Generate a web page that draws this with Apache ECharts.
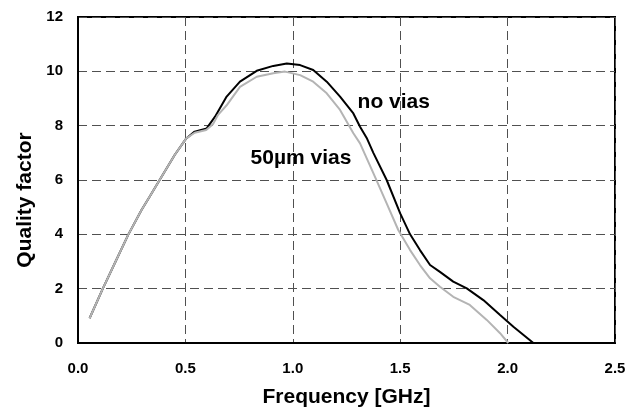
<!DOCTYPE html>
<html>
<head>
<meta charset="utf-8">
<script src="https://cdn.jsdelivr.net/npm/echarts@6/dist/echarts.min.js"></script>
<style>
html,body{margin:0;padding:0;background:#fff;}
#chart{width:639px;height:418px;}
</style>
</head>
<body>
<div id="chart"></div>
<script>
// Frequency [GHz] and quality factor
const noViasFreq = [0.054,0.116,0.175,0.233,0.295,0.334,0.38,0.45,0.504,0.543,0.599,0.638,0.692,0.754,0.832,0.909,0.972,1.034,1.095,1.158,1.22,1.282,1.313,1.344,1.375,1.437,1.5,1.546,1.592,1.639,1.685,1.747,1.81,1.887,1.965,2.027,2.12];
const noViasQ    = [0.91,2.01,3.0,3.97,4.89,5.39,6.0,6.92,7.53,7.78,7.9,8.33,9.07,9.62,10.02,10.2,10.29,10.23,10.05,9.62,9.07,8.45,7.96,7.55,7.0,6.0,4.77,4.0,3.42,2.87,2.62,2.26,2.01,1.58,1.03,0.6,0.0];
const viasFreq   = [0.054,0.116,0.175,0.233,0.295,0.334,0.38,0.45,0.504,0.543,0.597,0.628,0.652,0.692,0.754,0.832,0.909,0.964,1.034,1.095,1.158,1.22,1.282,1.313,1.375,1.437,1.491,1.546,1.592,1.639,1.685,1.747,1.824,1.903,1.965,2.003];
const viasQ      = [0.91,2.01,3.0,3.97,4.89,5.39,6.0,6.92,7.53,7.74,7.84,8.05,8.4,8.75,9.43,9.8,9.93,9.99,9.86,9.62,9.19,8.58,7.72,7.35,6.25,5.14,4.16,3.42,2.87,2.38,2.07,1.70,1.40,0.85,0.36,0.0];
const seriesNames = ['no vias', '50µm vias'];
const xTitle = 'Frequency [GHz]';
const yTitle = 'Quality factor';

const zip = (xs, ys) => xs.map((x, i) => [x, ys[i]]);
const FONT = "'Liberation Sans', Arial, sans-serif";

const chart = echarts.init(document.getElementById('chart'), null, {renderer: 'canvas'});
const gridLine = {show: true, lineStyle: {color: '#505050', width: 1, type: [9, 5]}};
const labelMark = (text, coord) => ({
  symbol: 'circle', symbolSize: 1,
  itemStyle: {color: 'rgba(0,0,0,0)'},
  label: {show: true, position: 'inside', formatter: text, fontFamily: FONT, fontWeight: 'bold', fontSize: 21, color: '#000'},
  data: [{coord: coord, value: 0}]
});
chart.setOption({
  animation: false,
  grid: {left: 78, top: 17, width: 537, height: 326, show: true, borderColor: '#000', borderWidth: 2, backgroundColor: 'transparent'},
  xAxis: {
    type: 'value', min: 0, max: 2.5, interval: 0.5,
    name: xTitle, nameLocation: 'middle', nameGap: 44,
    nameTextStyle: {fontFamily: FONT, fontWeight: 'bold', fontSize: 21, color: '#000'},
    axisLine: {show: true, lineStyle: {color: '#000', width: 2}},
    axisTick: {show: false},
    axisLabel: {margin: 18, fontFamily: FONT, fontWeight: 'bold', fontSize: 15, color: '#000', formatter: v => v.toFixed(1)},
    splitLine: gridLine
  },
  yAxis: {
    type: 'value', min: 0, max: 12, interval: 2,
    name: yTitle, nameLocation: 'middle', nameGap: 42, nameRotate: 90,
    nameTextStyle: {fontFamily: FONT, fontWeight: 'bold', fontSize: 21, color: '#000', padding: [0, 40, 0, 0]},
    axisLine: {show: true, lineStyle: {color: '#000', width: 2}},
    axisTick: {show: false},
    axisLabel: {margin: 15, fontFamily: FONT, fontWeight: 'bold', fontSize: 15, color: '#000'},
    splitLine: gridLine
  },
  series: [
    {
      name: seriesNames[0], type: 'line', showSymbol: false, symbol: 'none',
      data: zip(noViasFreq, noViasQ),
      lineStyle: {color: '#000', width: 2}, z: 3,
      markPoint: labelMark(seriesNames[0], [1.47, 8.87])
    },
    {
      name: seriesNames[1], type: 'line', showSymbol: false, symbol: 'none',
      data: zip(viasFreq, viasQ),
      lineStyle: {color: '#b4b4b4', width: 2}, z: 4,
      markPoint: labelMark(seriesNames[1], [1.038, 6.81])
    }
  ]
});
</script>
</body>
</html>
